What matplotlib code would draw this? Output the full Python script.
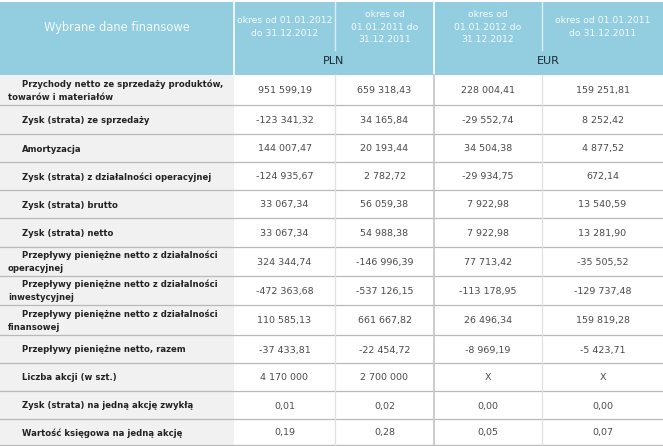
import matplotlib.pyplot as plt
from matplotlib.patches import Rectangle

# table content
title = "Wybrane dane finansowe"
period_headers = [
    "okres od 01.01.2012\ndo 31.12.2012",
    "okres od\n01.01.2011 do\n31.12.2011",
    "okres od\n01.01.2012 do\n31.12.2012",
    "okres od 01.01.2011\ndo 31.12.2011",
]
currencies = ["PLN", "EUR"]

row_labels = [
    ["Przychody netto ze sprzedaży produktów,", "towarów i materiałów"],
    ["Zysk (strata) ze sprzedaży"],
    ["Amortyzacja"],
    ["Zysk (strata) z działalności operacyjnej"],
    ["Zysk (strata) brutto"],
    ["Zysk (strata) netto"],
    ["Przepływy pieniężne netto z działalności", "operacyjnej"],
    ["Przepływy pieniężne netto z działalności", "inwestycyjnej"],
    ["Przepływy pieniężne netto z działalności", "finansowej"],
    ["Przepływy pieniężne netto, razem"],
    ["Liczba akcji (w szt.)"],
    ["Zysk (strata) na jedną akcję zwykłą"],
    ["Wartość księgowa na jedną akcję"],
]
pln_2012 = ["951 599,19", "-123 341,32", "144 007,47", "-124 935,67", "33 067,34",
            "33 067,34", "324 344,74", "-472 363,68", "110 585,13", "-37 433,81",
            "4 170 000", "0,01", "0,19"]
pln_2011 = ["659 318,43", "34 165,84", "20 193,44", "2 782,72", "56 059,38",
            "54 988,38", "-146 996,39", "-537 126,15", "661 667,82", "-22 454,72",
            "2 700 000", "0,02", "0,28"]
eur_2012 = ["228 004,41", "-29 552,74", "34 504,38", "-29 934,75", "7 922,98",
            "7 922,98", "77 713,42", "-113 178,95", "26 496,34", "-8 969,19",
            "X", "0,00", "0,05"]
eur_2011 = ["159 251,81", "8 252,42", "4 877,52", "672,14", "13 540,59",
            "13 281,90", "-35 505,52", "-129 737,48", "159 819,28", "-5 423,71",
            "X", "0,00", "0,07"]
columns = [pln_2012, pln_2011, eur_2012, eur_2011]

# layout in pixels
W, H = 663, 446
col_x = [0, 234, 335, 434, 542, 663]
row_y = [75, 105, 134, 162, 190, 218, 247, 276, 305, 335, 363, 391, 419, 445]
head_top = 2
blue = "#93cde0"

fig = plt.figure(figsize=(W / 100, H / 100), dpi=100)
ax = fig.add_axes([0, 0, 1, 1])
ax.set_xlim(0, W)
ax.set_ylim(H, 0)
ax.axis("off")

# header
ax.add_patch(Rectangle((0, head_top), W, row_y[0] - head_top, color=blue, lw=0))
for x in [col_x[1], col_x[3]]:
    ax.plot([x, x], [head_top, row_y[0]], color="white", lw=1.2)
for x in [col_x[2], col_x[4]]:
    ax.plot([x, x], [head_top, 50], color="#d8eef5", lw=1.0)

ax.text(col_x[1] / 2, 27, title, ha="center", va="center", color="#f4fbfd",
        fontsize=8.3, family="DejaVu Sans")
for i, txt in enumerate(period_headers):
    cx = (col_x[i + 1] + col_x[i + 2]) / 2
    ax.text(cx, 27, txt, ha="center", va="center", color="#f4fbfd",
            fontsize=6.7, linespacing=1.55, family="DejaVu Sans")
ax.text((col_x[1] + col_x[3]) / 2, 61, currencies[0], ha="center", va="center",
        color="#1a2a33", fontsize=8, family="DejaVu Sans")
ax.text((col_x[3] + col_x[5]) / 2, 61, currencies[1], ha="center", va="center",
        color="#1a2a33", fontsize=8, family="DejaVu Sans")

# label column background
ax.add_patch(Rectangle((0, row_y[0]), col_x[1], row_y[-1] - row_y[0],
                       color="#f1f1f1", lw=0))

# grid lines
for y in row_y[1:]:
    ax.plot([0, W], [y, y], color="#b9b9b9", lw=0.9)
for x in [col_x[2], col_x[4]]:
    ax.plot([x, x], [row_y[0], row_y[-1]], color="#e0e0e0", lw=0.9)
ax.plot([col_x[3], col_x[3]], [row_y[0], row_y[-1]], color="#c4c4c4", lw=1.2)

# rows
lab_kw = dict(ha="left", va="center", fontsize=6.1, fontweight="bold",
              color="#222222", family="DejaVu Sans")
for r, lab in enumerate(row_labels):
    top, bot = row_y[r], row_y[r + 1]
    cy = (top + bot) / 2
    if len(lab) == 1:
        ax.text(22, cy + 1, lab[0], **lab_kw)
    else:
        ax.text(22, cy - 6, lab[0], **lab_kw)
        ax.text(8, cy + 7, lab[1], **lab_kw)
    for c, vals in enumerate(columns):
        cx = (col_x[c + 1] + col_x[c + 2]) / 2
        ax.text(cx, cy + 1, vals[r], ha="center", va="center", fontsize=6.8,
                color="#4a4a4a", family="DejaVu Sans")

fig.savefig("out.png", dpi=100)
